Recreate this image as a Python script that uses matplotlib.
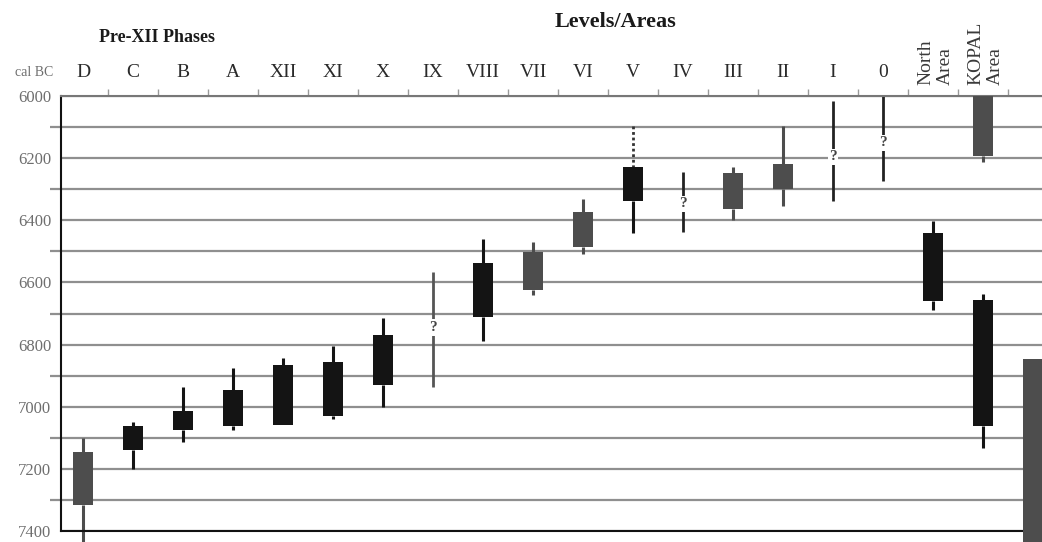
import numpy as np
import matplotlib
matplotlib.use("Agg")
import matplotlib.pyplot as plt
from matplotlib.ticker import MultipleLocator

# categories along the top (index = column position)
phases = ['D', 'C', 'B', 'A', 'XII', 'XI', 'X', 'IX', 'VIII', 'VII',
          'VI', 'V', 'IV', 'III', 'II', 'I', '0', '', '']
area_labels = ['North\nArea', 'KOPAL\nArea']
area_pos = [17.05, 18.05]

# boxes (cal BC): column, box top, box bottom, whisker top, whisker bottom, shade
box_pos = [0, 1, 2, 3, 4, 5, 6, 8, 9, 10, 11, 13, 14, 17, 18, 18, 19]
box_top = [7147, 7062, 7014, 6945, 6865, 6855, 6770, 6537, 6503, 6373,
           6230, 6247, 6220, 6440, 6000, 6657, 6845]
box_bot = [7317, 7140, 7076, 7062, 7059, 7031, 6930, 6710, 6623, 6487,
           6337, 6363, 6300, 6660, 6194, 7062, 7445]
whisk_top = [7100, 7048, 6935, 6874, 6842, 6806, 6713, 6460, 6470, 6330,
             np.nan, 6230, 6097, 6403, np.nan, 6638, np.nan]
whisk_bot = [7445, 7200, 7113, 7076, 7059, 7041, 7000, 6790, 6640, 6510,
             6440, 6400, 6353, 6690, 6213, 7133, np.nan]
shade = ['g', 'k', 'k', 'k', 'k', 'k', 'k', 'k', 'g', 'g',
         'k', 'g', 'g', 'k', 'g', 'k', 'g']

# dotted upper range for Level V
dotted_pos = [11]
dotted_top = [6097]
dotted_bot = [6230]

# uncertain ranges (line with "?")
q_pos = [7, 12, 15, 16]
q_top = [6567, 6243, 6015, 6000]
q_bot = [6936, 6437, 6337, 6273]
q_mark = [6745, 6347, 6195, 6150]

colors = {'k': '#141414', 'g': '#4d4d4d'}
serif = ['Liberation Serif', 'DejaVu Serif']

plt.rcParams['font.family'] = serif
fig = plt.figure(figsize=(10.42, 5.42), dpi=100)
ax = fig.add_axes([61 / 1042, 1 - 531 / 542, 1 - 61 / 1042, 435 / 542])

ax.set_xlim(-0.44, 19.18)
ax.set_ylim(7400, 6000)

# grid
ax.yaxis.set_major_locator(MultipleLocator(200))
ax.yaxis.set_minor_locator(MultipleLocator(100))
ax.grid(axis='y', which='both', color='#8f8f8f', lw=1.6)
ax.set_axisbelow(True)

for x, t, b, wt, wb, s in zip(box_pos, box_top, box_bot, whisk_top, whisk_bot, shade):
    c = colors[s]
    if not np.isnan(wt):
        ax.vlines(x, wt, t, color=c, lw=2.2, zorder=2, clip_on=False)
    if not np.isnan(wb):
        ax.vlines(x, b, wb, color=c, lw=2.2, zorder=2, clip_on=False)
    ax.bar(x, b - t, bottom=t, width=0.4, color=c, zorder=3, clip_on=False)

for x, t, b in zip(dotted_pos, dotted_top, dotted_bot):
    ax.vlines(x, t, b, color='#333333', lw=2, linestyles=(0, (1, 1)), zorder=2)

for x, t, b, m in zip(q_pos, q_top, q_bot, q_mark):
    c = '#555555' if x == 7 else '#222222'
    ax.vlines(x, t, b, color=c, lw=2, zorder=2)
    ax.text(x, m, '?', ha='center', va='center', fontsize=11, fontweight='bold',
            color='#444444', zorder=4,
            bbox=dict(boxstyle='square,pad=0.1', fc='white', ec='none'))

# top category axis
ax.xaxis.tick_top()
ax.set_xticks(range(len(phases)))
ax.set_xticklabels(phases, fontsize=14, color='#2a2a2a')
ax.set_xticks(np.arange(0.5, 19, 1), minor=True)
ax.tick_params(axis='x', which='major', length=0, pad=11)
ax.tick_params(axis='x', which='minor', length=5, width=1, color='#999999',
               direction='out', top=True, bottom=False)
for x, lab in zip(area_pos, area_labels):
    ax.annotate(lab, xy=(x, 6000), xytext=(0, 8), textcoords='offset points',
                rotation=90, ha='center', va='bottom', multialignment='left',
                fontsize=14, color='#3a3a3a', annotation_clip=False)

# left axis
ax.tick_params(axis='y', which='major', length=0, pad=7, labelsize=12,
               labelcolor='#6e6e6e')
ax.tick_params(axis='y', which='minor', length=8, width=1.6, color='#8f8f8f')

ax.spines['right'].set_visible(False)
ax.spines['left'].set_color('#111111')
ax.spines['left'].set_linewidth(1.5)
ax.spines['bottom'].set_color('#111111')
ax.spines['bottom'].set_linewidth(1.5)
ax.spines['top'].set_color('#777777')
ax.spines['top'].set_linewidth(1.5)

fig.text(53 / 1042, 1 - 72 / 542, 'cal BC', ha='right', va='center',
         fontsize=10, color='#6e6e6e')
fig.text(157 / 1042, 1 - 37 / 542, 'Pre-XII Phases', ha='center', va='center',
         fontsize=13, fontweight='bold', color='#1a1a1a')
fig.text(615 / 1042, 1 - 22 / 542, 'Levels/Areas', ha='center', va='center',
         fontsize=16, fontweight='bold', color='#1a1a1a')

fig.savefig('out.png', dpi=100)
